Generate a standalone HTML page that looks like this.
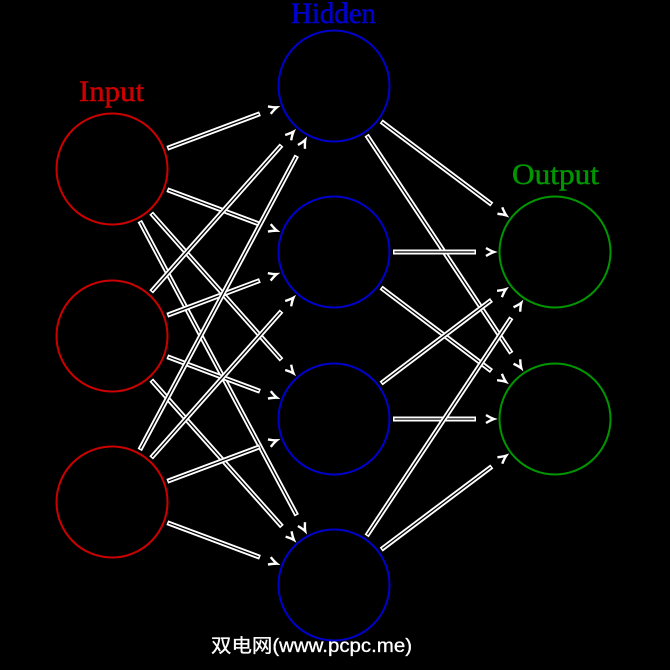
<!DOCTYPE html>
<html>
<head>
<meta charset="utf-8">
<style>
  html,body{margin:0;padding:0;background:#000;}
  svg{display:block;}
</style>
</head>
<body>
<svg width="670" height="670" viewBox="0 0 670 670" xmlns="http://www.w3.org/2000/svg">
  <rect width="670" height="670" fill="#000"/>
  <defs>
    <g id="a237">
      <line x1="59" y1="0" x2="158" y2="0" stroke="#fff" stroke-width="5"/>
      <line x1="60.5" y1="0" x2="156.5" y2="0" stroke="#000" stroke-width="1.3"/>
      <path d="M168,-4 Q173,-1 176,0 Q173,1 168,4" fill="none" stroke="#fff" stroke-width="2.4"/>
    </g>
    <g id="a334">
      <line x1="59" y1="0" x2="255.3" y2="0" stroke="#fff" stroke-width="5"/>
      <line x1="60.5" y1="0" x2="253.8" y2="0" stroke="#000" stroke-width="1.3"/>
      <path d="M265.3,-4 Q270.3,-1 273.3,0 Q270.3,1 265.3,4" fill="none" stroke="#fff" stroke-width="2.4"/>
    </g>
    <g id="a471">
      <line x1="59" y1="0" x2="392.5" y2="0" stroke="#fff" stroke-width="5"/>
      <line x1="60.5" y1="0" x2="391" y2="0" stroke="#000" stroke-width="1.3"/>
      <path d="M402.5,-4 Q407.5,-1 410.5,0 Q407.5,1 402.5,4" fill="none" stroke="#fff" stroke-width="2.4"/>
    </g>
    <g id="a276">
      <line x1="59" y1="0" x2="197.4" y2="0" stroke="#fff" stroke-width="5"/>
      <line x1="60.5" y1="0" x2="195.9" y2="0" stroke="#000" stroke-width="1.3"/>
      <path d="M207.4,-4 Q212.4,-1 215.4,0 Q212.4,1 207.4,4" fill="none" stroke="#fff" stroke-width="2.4"/>
    </g>
    <g id="a400">
      <line x1="59" y1="0" x2="320.7" y2="0" stroke="#fff" stroke-width="5"/>
      <line x1="60.5" y1="0" x2="319.2" y2="0" stroke="#000" stroke-width="1.3"/>
      <path d="M330.7,-4 Q335.7,-1 338.7,0 Q335.7,1 330.7,4" fill="none" stroke="#fff" stroke-width="2.4"/>
    </g>
    <g id="a221">
      <line x1="59" y1="0" x2="142" y2="0" stroke="#fff" stroke-width="5"/>
      <line x1="60.5" y1="0" x2="140.5" y2="0" stroke="#000" stroke-width="1.3"/>
      <path d="M152,-4 Q157,-1 160,0 Q157,1 152,4" fill="none" stroke="#fff" stroke-width="2.4"/>
    </g>
  </defs>

  <!-- Input -> Hidden -->
  <use href="#a237" transform="translate(112,169) rotate(-20.5)"/>
  <use href="#a237" transform="translate(112,169) rotate(20.5)"/>
  <use href="#a334" transform="translate(112,169) rotate(48.39)"/>
  <use href="#a471" transform="translate(112,169) rotate(61.92)"/>

  <use href="#a334" transform="translate(112,336) rotate(-48.39)"/>
  <use href="#a237" transform="translate(112,336) rotate(-20.6)"/>
  <use href="#a237" transform="translate(112,336) rotate(20.5)"/>
  <use href="#a334" transform="translate(112,336) rotate(48.27)"/>

  <use href="#a471" transform="translate(112,502) rotate(-61.92)"/>
  <use href="#a334" transform="translate(112,502) rotate(-48.39)"/>
  <use href="#a237" transform="translate(112,502) rotate(-20.5)"/>
  <use href="#a237" transform="translate(112,502) rotate(20.5)"/>

  <!-- Hidden -> Output -->
  <use href="#a276" transform="translate(334,86) rotate(36.91)"/>
  <use href="#a400" transform="translate(334,86) rotate(56.43)"/>
  <use href="#a221" transform="translate(334,252) rotate(0)"/>
  <use href="#a276" transform="translate(334,252) rotate(37.07)"/>
  <use href="#a276" transform="translate(334,419) rotate(-37.07)"/>
  <use href="#a221" transform="translate(334,419) rotate(0)"/>
  <use href="#a400" transform="translate(334,585) rotate(-56.43)"/>
  <use href="#a276" transform="translate(334,585) rotate(-36.91)"/>

  <!-- Circles -->
  <g fill="none" stroke-width="2">
    <circle cx="112" cy="169" r="55.5" stroke="#cc0000"/>
    <circle cx="112" cy="336" r="55.5" stroke="#cc0000"/>
    <circle cx="112" cy="502" r="55.5" stroke="#cc0000"/>
    <circle cx="334" cy="86" r="55.5" stroke="#0000cc"/>
    <circle cx="334" cy="252" r="55.5" stroke="#0000cc"/>
    <circle cx="334" cy="419" r="55.5" stroke="#0000cc"/>
    <circle cx="334" cy="585" r="55.5" stroke="#0000cc"/>
    <circle cx="555" cy="252" r="55.5" stroke="#009600"/>
    <circle cx="555" cy="419" r="55.5" stroke="#009600"/>
  </g>

  <!-- Labels -->
  <g font-family="'Liberation Serif', serif" font-size="30" text-anchor="middle" stroke-width="0.5">
    <text x="111.5" y="101" fill="#cc0000" stroke="#cc0000" textLength="65" lengthAdjust="spacingAndGlyphs">Input</text>
    <text x="333.5" y="23" fill="#0000cc" stroke="#0000cc" textLength="85" lengthAdjust="spacingAndGlyphs">Hidden</text>
    <text x="555.5" y="184" fill="#009600" stroke="#009600" textLength="87" lengthAdjust="spacingAndGlyphs">Output</text>
  </g>

  <!-- Watermark -->
  <text x="211" y="652" fill="#fff" stroke="#fff" stroke-width="0.3" font-family="'Liberation Sans', 'Noto Sans CJK SC', sans-serif" font-size="19" textLength="201" lengthAdjust="spacingAndGlyphs">双电网(www.pcpc.me)</text>
</svg>
</body>
</html>
